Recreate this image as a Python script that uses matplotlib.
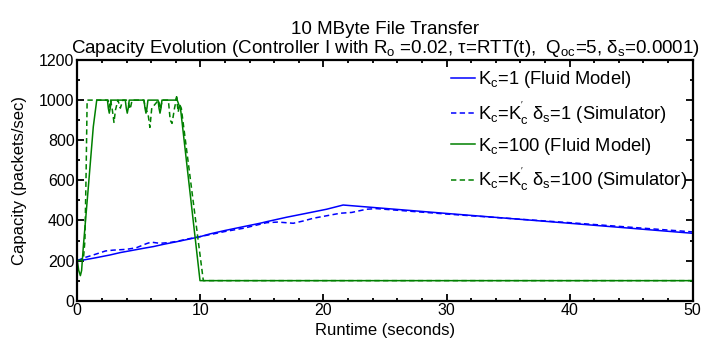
import matplotlib
matplotlib.use("Agg")
import matplotlib.pyplot as plt
from matplotlib.ticker import MultipleLocator

plt.rcParams["font.family"] = ["Liberation Sans", "DejaVu Sans"]
plt.rcParams["mathtext.default"] = "regular"

# Kc = 1, fluid model
t_k1_fluid = [0, 0.6, 1.5, 2.66, 3.5, 4.3, 5.36, 6.2, 7.0, 8.07, 9.0, 9.97, 10.78,
              12.0, 13.49, 14.84, 15.39, 17.0, 18.64, 20.26, 21.6, 30, 40, 50]
c_k1_fluid = [200, 204, 214, 228, 240, 249, 261, 270, 281, 294, 306, 319, 333,
              350, 369, 386, 394, 416, 436, 456, 477, 435, 386, 336]

# Kc = K'c * delta_s = 1, simulator
t_k1_sim = [0, 0.6, 1.3, 2.3, 2.9, 4.0, 4.8, 5.6, 6.0, 6.7, 7.5, 8.1, 9.0, 10.0,
            11.0, 12.0, 13.49, 15.39, 16.3, 17.55, 18.4, 19.17, 21.36, 22.3,
            23.5, 24.3, 30, 40, 50]
c_k1_sim = [200, 215, 228, 248, 252, 256, 264, 284, 292, 286, 290, 296, 308, 320,
            332, 345, 361, 389, 392, 386, 398, 411, 436, 440, 456, 459, 432, 389, 343]

# Kc = 100, fluid model
t_k100_fluid = [0, 0.12, 0.25, 0.35, 0.49, 0.9, 1.3, 1.58, 2.45, 2.52, 2.6, 2.68,
                2.76, 3.9, 3.98, 4.06, 4.14, 4.22, 5.42, 5.5, 5.58, 5.66, 5.74,
                6.56, 6.64, 6.72, 6.8, 6.88, 8.0, 8.07, 8.12, 8.4, 9.97, 50]
c_k100_fluid = [200, 150, 125, 150, 269, 568, 867, 1000, 1000, 960, 935, 960,
                1000, 1000, 960, 935, 960, 1000, 1000, 960, 935, 960, 1000,
                1000, 960, 935, 960, 1000, 1000, 1017, 1000, 951, 100, 100]

# Kc = K'c * delta_s = 100, simulator
t_k100_sim = [0, 0.3, 0.5, 0.62, 0.72, 0.8, 1.3, 2.5, 2.6, 2.7, 2.85, 2.98, 3.1,
              3.3, 3.5, 3.7, 4.1, 4.3, 4.45, 4.6, 5.4, 5.55, 5.75, 5.9, 6.05,
              6.6, 6.75, 6.9, 7.4, 7.55, 7.7, 7.9, 8.07, 8.2, 8.3, 8.45, 10.24, 50]
c_k100_sim = [200, 202, 210, 300, 650, 1000, 1000, 1000, 965, 1000, 950, 889, 950,
              1000, 960, 1000, 1000, 955, 1000, 1000, 1000, 960, 930, 864, 960,
              1000, 955, 1000, 1000, 900, 884, 960, 1010, 940, 980, 960, 100, 100]

blue = (0.0, 0.0, 1.0)
green = (0.0, 0.5, 0.0)
dash = (0, (3.5, 2.2))

fig = plt.figure(figsize=(7.02, 3.49), dpi=100)
ax = fig.add_axes([0.1101, 0.1384, 0.8766, 0.6897])

ax.plot(t_k1_fluid, c_k1_fluid, color=blue, lw=1.1,
        label="K$_c$=1 (Fluid Model)")
ax.plot(t_k1_sim, c_k1_sim, color=blue, lw=1.1, linestyle=dash,
        label="K$_c$=K$_c^{'}$ δ$_s$=1 (Simulator)")
ax.plot(t_k100_fluid, c_k100_fluid, color=green, lw=1.1,
        label="K$_c$=100 (Fluid Model)")
ax.plot(t_k100_sim, c_k100_sim, color=green, lw=1.1, linestyle=dash,
        label="K$_c$=K$_c^{'}$ δ$_s$=100 (Simulator)")

ax.set_xlim(0, 50)
ax.set_ylim(0, 1200)
ax.xaxis.set_major_locator(MultipleLocator(10))
ax.xaxis.set_minor_locator(MultipleLocator(2))
ax.yaxis.set_major_locator(MultipleLocator(200))
ax.yaxis.set_minor_locator(MultipleLocator(100))
ax.tick_params(which="both", direction="in", top=True, right=True,
               labelsize=11.5, width=1.3, pad=2)
ax.tick_params(which="major", length=5)
ax.tick_params(which="minor", length=2.5)
for sp in ax.spines.values():
    sp.set_linewidth(1.6)

ax.set_xlabel("Runtime (seconds)", fontsize=12, labelpad=3)
ax.set_ylabel("Capacity (packets/sec)", fontsize=12, labelpad=9)
ax.set_title("10 MByte File Transfer\n"
             "Capacity Evolution (Controller I with R$_o$ =0.02, τ=RTT(t),  "
             "Q$_{oc}$=5, δ$_s$=0.0001)", fontsize=13.5, linespacing=1.0, pad=5)

ax.legend(loc="upper right", bbox_to_anchor=(1.009, 1.008), frameon=False,
          fontsize=13.2, handlelength=1.3, handletextpad=0.15,
          labelspacing=0.5, borderaxespad=0.2)

fig.savefig("out.png", dpi=100)
